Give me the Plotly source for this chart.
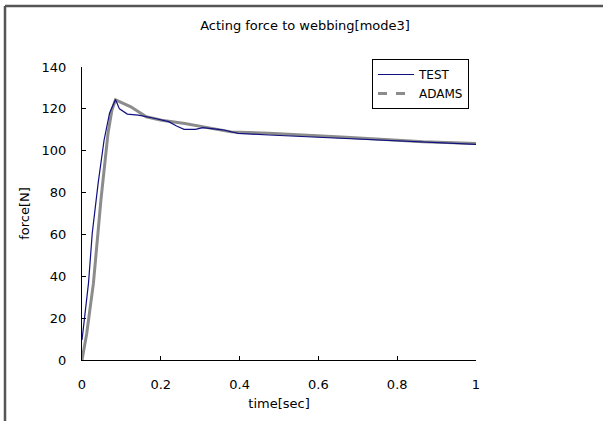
import plotly.graph_objects as go

# Data
test_t = [0.0, 0.0066, 0.0165, 0.026, 0.041, 0.056, 0.07, 0.085, 0.095, 0.115, 0.143, 0.183,
          0.2, 0.22, 0.24, 0.259, 0.288, 0.307, 0.357, 0.396, 0.474, 0.572, 0.67, 0.768, 0.866, 1.0]
test_f = [9.5, 20.7, 36.7, 60.5, 84.5, 105, 118, 124.5, 120, 117.5, 117, 115.5,
          114.6, 113.9, 111.8, 110.2, 110.2, 111, 110, 108.3, 107.5, 106.7, 105.8, 104.8, 104, 103]

adams_t = [0.0, 0.012, 0.029, 0.048, 0.066, 0.076, 0.085, 0.124, 0.163, 0.202, 0.261,
           0.329, 0.378, 0.474, 0.572, 0.67, 0.768, 0.866, 1.0]
adams_f = [0.0, 12.7, 36.7, 76.4, 108.3, 119.4, 124.3, 121, 116.2, 114.6, 113,
           110.6, 109, 108.3, 107.5, 106.4, 105.4, 104.3, 103.5]

x_ticks = [0, 0.2, 0.4, 0.6, 0.8, 1]
x_tick_labels = ["0", "0.2", "0.4", "0.6", "0.8", "1"]
y_ticks = [0, 20, 40, 60, 80, 100, 120, 140]

FONT = "DejaVu Sans"

fig = go.Figure()
fig.add_trace(go.Scatter(x=adams_t, y=adams_f, mode="lines", name="ADAMS",
                         line=dict(color="#8c8c8c", width=3), showlegend=False))
fig.add_trace(go.Scatter(x=test_t, y=test_f, mode="lines", name="TEST",
                         line=dict(color="#101080", width=1.2)))
fig.add_trace(go.Scatter(x=[None], y=[None], mode="lines", name="ADAMS",
                         line=dict(color="#8c8c8c", width=3, dash="dash")))

# frame: left and top edges of the chart border (paper coordinates)
fx0 = (5 - 82) / 394
fx1 = (603 - 82) / 394
fy_top = (360 - 6) / 293
fy_bot = (360 - 421) / 293

fig.update_layout(
    width=603, height=421,
    margin=dict(l=82, r=127, t=67, b=61, autoexpand=False),
    paper_bgcolor="white", plot_bgcolor="white",
    font=dict(family=FONT, size=12, color="black"),
    title=dict(text="Acting force to webbing[mode3]", x=305/603, xanchor="center",
               y=1 - 25/421, yanchor="middle", font=dict(family=FONT, size=13, color="black")),
    legend=dict(x=(372 - 82) / 394, y=(360 - 59) / 293,
                xanchor="left", yanchor="top",
                bordercolor="black", borderwidth=1, bgcolor="white",
                font=dict(family=FONT, size=12, color="black"),
                tracegroupgap=0, itemwidth=36),
    xaxis=dict(range=[0, 1], tickvals=x_ticks, ticktext=x_tick_labels,
               showgrid=False, zeroline=False, showline=True, linecolor="black", linewidth=1,
               ticks="inside", ticklen=4, tickcolor="black", ticklabelstandoff=12,
               title=dict(text="time[sec]", font=dict(family=FONT, size=13), standoff=8),
               tickfont=dict(family=FONT, size=13)),
    yaxis=dict(range=[0, 140], tickvals=y_ticks,
               showgrid=False, zeroline=False, showline=True, linecolor="black", linewidth=1,
               ticks="inside", ticklen=4, tickcolor="black", ticklabelstandoff=12,
               title=dict(text="force[N]", font=dict(family=FONT, size=13), standoff=9),
               tickfont=dict(family=FONT, size=13)),
    shapes=[
        dict(type="line", xref="paper", yref="paper", x0=fx0, x1=fx1, y0=fy_top, y1=fy_top,
             line=dict(color="#555555", width=2.5)),
        dict(type="line", xref="paper", yref="paper", x0=fx0, x1=fx0, y0=fy_bot, y1=fy_top,
             line=dict(color="#555555", width=2.5)),
    ],
)

fig.write_html("out.html", config={"displayModeBar": False},
               post_script="document.body.style.margin='0';")
